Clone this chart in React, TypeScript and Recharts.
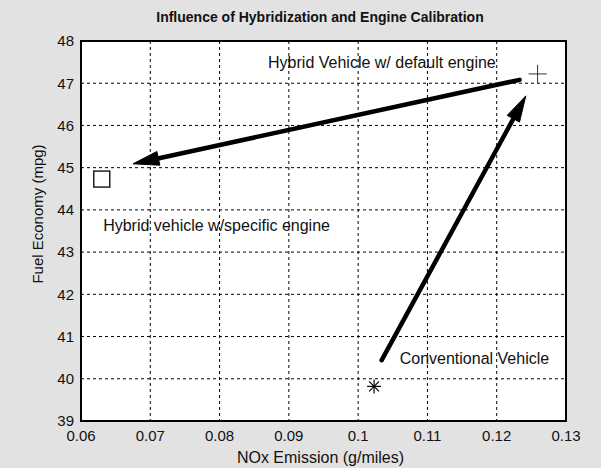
import React from 'react';
import {
  ScatterChart,
  Scatter,
  XAxis,
  YAxis,
  CartesianGrid,
  ReferenceArea,
  ReferenceLine,
  Label,
} from 'recharts';

// ---- data ----
const xTicks = [0.06, 0.07, 0.08, 0.09, 0.1, 0.11, 0.12, 0.13];
const yTicks = [39, 40, 41, 42, 43, 44, 45, 46, 47, 48];

const conventionalVehicle = [{ x: 0.1023, y: 39.82 }];
const hybridDefaultEngine = [{ x: 0.1259, y: 47.22 }];
const hybridSpecificEngine = [{ x: 0.063, y: 44.73 }];

const arrowDefaultToSpecific = [
  { x: 0.1233, y: 47.08 },
  { x: 0.0675, y: 45.09 },
];
const arrowConventionalToHybrid = [
  { x: 0.1034, y: 40.44 },
  { x: 0.1242, y: 46.7 },
];

const annotations = [
  { x: 0.087, y: 47.48, text: 'Hybrid Vehicle w/ default engine' },
  { x: 0.0632, y: 43.64, text: 'Hybrid vehicle w/specific engine' },
  { x: 0.106, y: 40.49, text: 'Conventional Vehicle' },
];

const titleText = 'Influence of Hybridization and Engine Calibration';
const xLabel = 'NOx Emission (g/miles)';
const yLabel = 'Fuel Economy (mpg)';

const FONT = '"Liberation Sans", Arial, sans-serif';

// ---- shapes ----
const SquareShape = (p: any) => (
  <rect x={p.cx - 8} y={p.cy - 8} width={16} height={16} fill="none" stroke="#000" strokeWidth={1.3} />
);

const PlusShape = (p: any) => (
  <g stroke="#333" strokeWidth={1}>
    <line x1={p.cx - 9} y1={p.cy} x2={p.cx + 9} y2={p.cy} />
    <line x1={p.cx} y1={p.cy - 9} x2={p.cx} y2={p.cy + 9} />
  </g>
);

const StarShape = (p: any) => {
  const r = 7;
  const lines = [0, 45, 90, 135].map((a) => {
    const rad = (a * Math.PI) / 180;
    return (
      <line
        key={a}
        x1={p.cx - r * Math.cos(rad)}
        y1={p.cy - r * Math.sin(rad)}
        x2={p.cx + r * Math.cos(rad)}
        y2={p.cy + r * Math.sin(rad)}
      />
    );
  });
  return (
    <g stroke="#000" strokeWidth={1.2}>
      {lines}
    </g>
  );
};

const TextShape = (p: any) => (
  <text
    x={p.cx}
    y={p.cy}
    fontFamily={FONT}
    fontSize={16}
    fill="#111"
    textAnchor="start"
    dominantBaseline="central"
  >
    {p.payload.text}
  </text>
);

const ArrowShape = (p: any) => {
  const { x1, y1, x2, y2 } = p;
  const dx = x2 - x1;
  const dy = y2 - y1;
  const len = Math.sqrt(dx * dx + dy * dy) || 1;
  const ux = dx / len;
  const uy = dy / len;
  const headLen = 26;
  const headHalf = 7;
  const bx = x2 - ux * headLen;
  const by = y2 - uy * headLen;
  const px = -uy;
  const py = ux;
  const pts = `${x2},${y2} ${bx + px * headHalf},${by + py * headHalf} ${bx - px * headHalf},${by - py * headHalf}`;
  return (
    <g>
      <line x1={x1} y1={y1} x2={bx + ux * 4} y2={by + uy * 4} stroke="#000" strokeWidth={4.5} strokeLinecap="round" />
      <polygon points={pts} fill="#000" stroke="#000" strokeWidth={1} />
    </g>
  );
};

const YLabelContent = (props: any) => {
  const vb = props.viewBox || {};
  const cx = 37;
  const cy = (vb.y ?? 41) + (vb.height ?? 380) / 2 - 17;
  return (
    <text
      x={cx}
      y={cy}
      transform={`rotate(-90, ${cx}, ${cy})`}
      textAnchor="middle"
      dominantBaseline="central"
      fontFamily={FONT}
      fontSize={15}
      fill="#111"
    >
      {yLabel}
    </text>
  );
};

const XLabelContent = (props: any) => {
  const vb = props.viewBox || {};
  const cx = (vb.x ?? 81) + (vb.width ?? 485) / 2 - 3;
  return (
    <text
      x={cx}
      y={457}
      textAnchor="middle"
      dominantBaseline="central"
      fontFamily={FONT}
      fontSize={16}
      fill="#111"
    >
      {xLabel}
    </text>
  );
};

export default function App() {
  return (
    <div
      style={{
        position: 'absolute',
        left: 0,
        top: 0,
        width: 601,
        height: 468,
        background: '#e2e2e2',
        overflow: 'hidden',
      }}
    >
      <div
        style={{
          position: 'absolute',
          left: 0,
          top: 8,
          width: 640,
          textAlign: 'center',
          fontFamily: '"Liberation Sans Narrow", "Arial Narrow", "Liberation Sans", Arial, sans-serif',
          fontWeight: 'bold',
          fontSize: 14,
          color: '#111',
          lineHeight: '18px',
        }}
      >
        {titleText}
      </div>
      <ScatterChart
        width={601}
        height={468}
        margin={{ top: 41, right: 35, bottom: 7, left: 0 }}
        style={{ position: 'absolute', left: 0, top: 0 }}
      >
        <CartesianGrid stroke="#000" strokeDasharray="3 3" strokeWidth={1} fill="#ffffff" />
        <XAxis
          type="number"
          dataKey="x"
          domain={[0.06, 0.13]}
          ticks={xTicks}
          allowDataOverflow
          height={40}
          tickLine={false}
          axisLine={false}
          tickSize={0}
          tickMargin={9}
          tickFormatter={(v: number) => String(v)}
          tick={{ fill: '#111', fontSize: 15, fontFamily: FONT }}
          interval={0}
        >
          <Label content={XLabelContent} />
        </XAxis>
        <YAxis
          type="number"
          dataKey="y"
          domain={[39, 48]}
          ticks={yTicks}
          allowDataOverflow
          width={81}
          tickLine={false}
          axisLine={false}
          tickSize={0}
          tickMargin={7}
          tick={{ fill: '#111', fontSize: 15, fontFamily: FONT }}
          interval={0}
        >
          <Label content={YLabelContent} />
        </YAxis>
        <ReferenceArea
          x1={0.06}
          x2={0.13}
          y1={39}
          y2={48}
          fill="none"
          fillOpacity={0}
          stroke="#000"
          strokeWidth={2}
          ifOverflow="visible"
        />
        <ReferenceLine
          segment={arrowDefaultToSpecific}
          ifOverflow="visible"
          shape={ArrowShape}
        />
        <ReferenceLine
          segment={arrowConventionalToHybrid}
          ifOverflow="visible"
          shape={ArrowShape}
        />
        <Scatter data={hybridSpecificEngine} shape={SquareShape} isAnimationActive={false} />
        <Scatter data={hybridDefaultEngine} shape={PlusShape} isAnimationActive={false} />
        <Scatter data={conventionalVehicle} shape={StarShape} isAnimationActive={false} />
        <Scatter data={annotations} shape={TextShape} isAnimationActive={false} />
      </ScatterChart>
    </div>
  );
}
